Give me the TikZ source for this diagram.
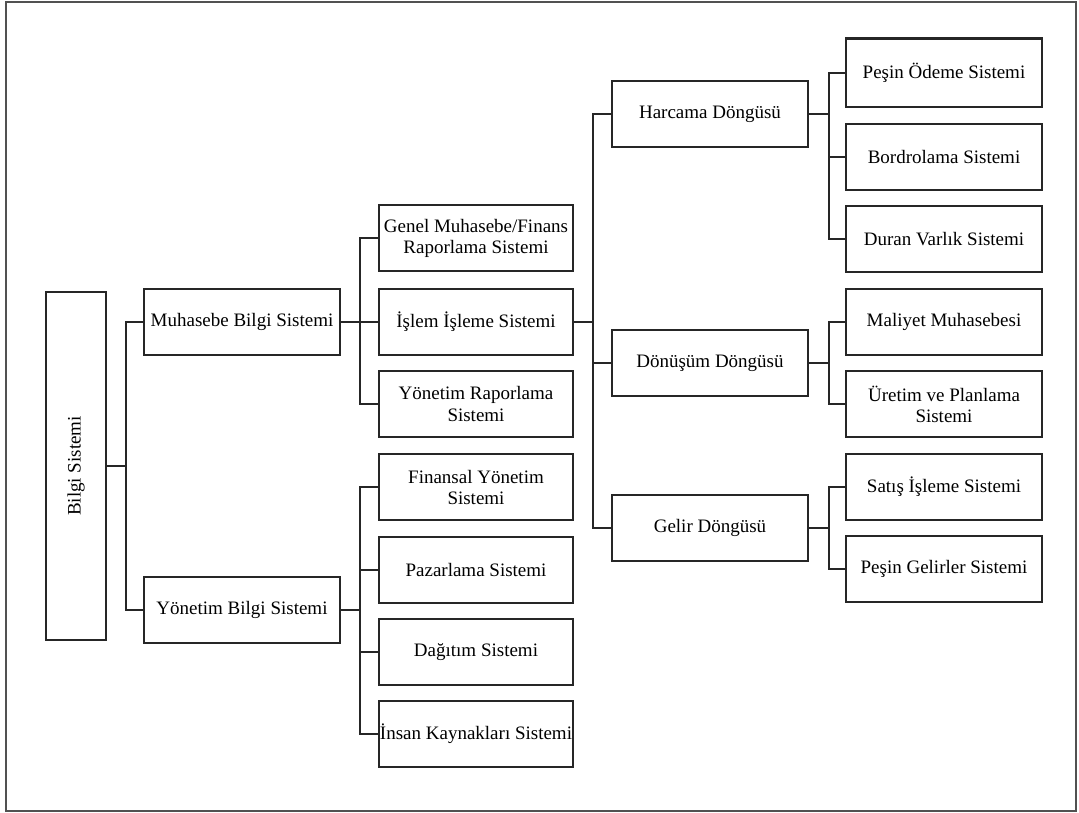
\documentclass[tikz,border=0pt]{standalone}
\usepackage{fontspec}
\setmainfont{Liberation Serif}
\definecolor{ink}{HTML}{262626}
\begin{document}
\begin{tikzpicture}[x=1pt,y=-1pt,
  box/.style={draw=ink, line width=1.8pt, fill=white, inner sep=0pt, minimum width=196, minimum height=66, align=center, text=black, font=\fontsize{19}{21}\selectfont},
  midbox/.style={box, minimum width=194},
  conn/.style={draw=ink, line width=1.4pt},
  stub/.style={draw=ink, line width=2.8pt}]
\useasboundingbox (0,0) rectangle (1079,813);
\draw[draw=ink!80, line width=2pt] (6,2) rectangle (1076,811);

% level 0 and 1
\node[box, minimum width=60, minimum height=348] (bilgi) at (76,466) {};
\node[rotate=90, text=black, font=\fontsize{19}{21}\selectfont] (bilgit) at (bilgi.center) {Bilgi Sistemi};
\node[box] (muh) at (242,322) {Muhasebe Bilgi Sistemi};
\node[box] (yonb) at (242,610) {Yönetim Bilgi Sistemi};

% level 2
\node[midbox] (genel) at (476,238) {Genel Muhasebe/Finans\\Raporlama Sistemi};
\node[midbox] (islem) at (476,322) {İşlem İşleme Sistemi};
\node[midbox] (yrap) at (476,404) {Yönetim Raporlama\\Sistemi};
\node[midbox] (fin) at (476,487) {Finansal Yönetim\\Sistemi};
\node[midbox] (paz) at (476,570) {Pazarlama Sistemi};
\node[midbox] (dag) at (476,652) {Dağıtım Sistemi};
\node[midbox] (insan) at (476,734) {İnsan Kaynakları Sistemi};

% level 3
\node[box] (harc) at (710,114) {Harcama Döngüsü};
\node[box] (donu) at (710,363) {Dönüşüm Döngüsü};
\node[box] (gelir) at (710,528) {Gelir Döngüsü};

% level 4
\node[box, minimum height=68] (pod) at (944,73) {Peşin Ödeme Sistemi};
\draw[ink, line width=2.8pt] (pod.north west) -- (pod.north east);
\node[box] (bord) at (944,157) {Bordrolama Sistemi};
\node[box] (duran) at (944,239) {Duran Varlık Sistemi};
\node[box] (mal) at (944,322) {Maliyet Muhasebesi};
\node[box] (uret) at (944,404) {Üretim ve Planlama\\Sistemi};
\node[box] (satis) at (944,487) {Satış İşleme Sistemi};
\node[box] (pgel) at (944,569) {Peşin Gelirler Sistemi};

% connectors
\path (bilgi.east) ++(19,0) coordinate (b0);
\draw[stub] (bilgi.east) -- (b0);
\draw[conn] (b0) |- (muh.west);
\draw[conn] (b0) |- (yonb.west);

\path (muh.east) ++(19,0) coordinate (b1);
\draw[stub] (muh.east) -- (b1);
\draw[conn] (b1) |- (genel.west);
\draw[conn] (b1) -- (islem.west);
\draw[conn] (b1) |- (yrap.west);

\path (yonb.east) ++(19,0) coordinate (b2);
\draw[stub] (yonb.east) -- (b2);
\draw[conn] (b2) |- (fin.west);
\draw[conn] (b2) |- (paz.west);
\draw[conn] (b2) |- (dag.west);
\draw[conn] (b2) |- (insan.west);

\path (islem.east) ++(19,0) coordinate (b3);
\draw[stub] (islem.east) -- (b3);
\draw[conn] (b3) |- (harc.west);
\draw[conn] (b3) |- (donu.west);
\draw[conn] (b3) |- (gelir.west);

\path (harc.east) ++(20,0) coordinate (b4);
\draw[stub] (harc.east) -- (b4);
\draw[stub] (b4) |- (pod.west);
\draw[conn] (b4) |- (bord.west);
\draw[conn] (b4) |- (duran.west);

\path (donu.east) ++(20,0) coordinate (b5);
\draw[conn] (donu.east) -- (b5);
\draw[conn] (b5) |- (mal.west);
\draw[conn] (b5) |- (uret.west);

\path (gelir.east) ++(20,0) coordinate (b6);
\draw[conn] (gelir.east) -- (b6);
\draw[conn] (b6) |- (satis.west);
\draw[conn] (b6) |- (pgel.west);
\end{tikzpicture}
\end{document}
